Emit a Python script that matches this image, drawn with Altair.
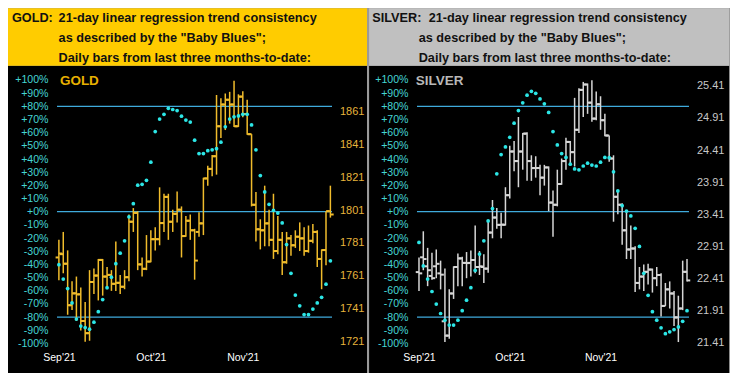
import altair as alt
import pandas as pd

FONT = "Liberation Sans"

# ---------------- data ----------------
month_labels = ["Sep'21", "Oct'21", "Nov'21"]
month_start_idx = [0, 21, 42]
pct_ticks = list(range(-100, 101, 10))
ref_levels = [80, 0, -80]
gold_price_ticks = [1721, 1741, 1761, 1781, 1801, 1821, 1841, 1861]
silver_price_ticks = [21.41, 21.91, 22.41, 22.91, 23.41, 23.91, 24.41, 24.91, 25.41]

gold_title = ["GOLD:", "21-day linear regression trend consistency",
              "as described by the \"Baby Blues\";", "Daily bars from last three months-to-date:"]
silver_title = ["SILVER:", "21-day linear regression trend consistency",
                "as described by the \"Baby Blues\";", "Daily bars from last three months-to-date:"]

gold_high = [1782.9, 1787.7, 1776.5, 1757.7, 1760.6, 1753.9, 1745.2, 1764.5, 1765.5, 1771.3,
             1771.3, 1766.4, 1764.5, 1781.9, 1761.6, 1764.5, 1798.3, 1802.2, 1800.3, 1772.2,
             1785.8, 1788.7, 1790.6, 1814.8, 1810.9, 1810.9, 1801.2, 1812.3, 1803.2, 1797.4,
             1798.3, 1789.6, 1799.7, 1820.6, 1827.9, 1834.5, 1870.9, 1868.9, 1871.8, 1872.8,
             1879.6, 1871.3, 1873.2, 1868.0, 1847.1, 1811.9, 1795.4, 1815.8, 1801.2, 1810.9,
             1797.4, 1787.7, 1787.7, 1785.8, 1788.7, 1793.5, 1790.6, 1791.6, 1792.5, 1788.7,
             1777.1, 1800.3, 1815.8]
gold_low = [1758.3, 1762.6, 1737.4, 1740.3, 1733.6, 1727.8, 1721.0, 1721.6, 1750.0, 1746.1,
            1749.0, 1752.9, 1751.9, 1751.9, 1750.0, 1752.9, 1757.7, 1787.7, 1764.5, 1760.6,
            1764.5, 1769.3, 1776.5, 1779.6, 1787.7, 1782.9, 1787.7, 1793.5, 1772.2, 1784.8,
            1782.9, 1758.7, 1784.8, 1785.8, 1815.8, 1821.6, 1822.5, 1844.8, 1849.6, 1853.5,
            1851.5, 1851.5, 1857.3, 1846.7, 1803.2, 1781.9, 1777.1, 1779.0, 1779.0, 1771.3,
            1774.2, 1761.6, 1768.4, 1773.2, 1778.0, 1776.1, 1773.2, 1775.1, 1780.9, 1766.4,
            1752.9, 1767.4, 1796.4]
gold_open = [1772.2, 1774.2, 1768.4, 1743.2, 1750.4, 1749.8, 1733.6, 1726.2, 1757.3, 1761.2,
             1770.7, 1760.6, 1761.6, 1756.2, 1756.8, 1754.4, 1760.2, 1793.9, 1799.3, 1768.0,
             1765.3, 1769.7, 1783.3, 1783.3, 1793.1, 1809.0, 1793.9, 1798.7, 1801.2, 1785.2,
             1794.5, 1788.7, 1787.7, 1792.9, 1820.2, 1826.0, 1833.7, 1851.9, 1865.1, 1868.0,
             1865.1, 1851.9, 1869.9, 1859.3, 1847.1, 1804.2, 1789.3, 1788.7, 1792.9, 1782.9,
             1776.1, 1782.9, 1769.3, 1783.8, 1779.6, 1784.8, 1783.8, 1776.1, 1782.3, 1787.7,
             1771.3, 1776.7, 1800.3]
gold_close = [1774.6, 1768.4, 1743.2, 1750.4, 1749.8, 1733.6, 1726.2, 1757.3, 1761.2, 1770.7,
              1760.6, 1761.6, 1756.2, 1756.8, 1754.4, 1760.2, 1793.9, 1799.3, 1768.0, 1765.3,
              1769.7, 1783.3, 1783.3, 1793.1, 1809.0, 1793.9, 1798.7, 1801.2, 1785.2, 1794.5,
              1788.7, 1770.3, 1792.9, 1820.2, 1826.0, 1833.7, 1851.9, 1865.1, 1868.0, 1865.1,
              1851.9, 1869.9, 1859.3, 1847.1, 1804.2, 1789.3, 1788.7, 1792.9, 1782.9, 1776.1,
              1782.9, 1769.3, 1783.8, 1779.6, 1784.8, 1783.8, 1776.1, 1782.3, 1787.7, 1771.3,
              1776.7, 1800.3, 1798.3]
gold_trend = [-40.2, -51.2, -58.4, -69.3, -81.5, -86.8, -88.0, -89.2, -83.9, -75.9,
              -66.7, -57.7, -49.7, -39.5, -31.5, -22.1, -3.9, 6.1, 20.1, 20.8,
              23.8, 37.6, 60.8, 70.3, 73.9, 78.5, 77.6, 76.8, 72.5, 69.6,
              68.1, 54.3, 44.1, 44.1, 46.3, 47.0, 47.8, 52.8, 64.5, 70.3,
              72.0, 72.7, 73.9, 73.9, 65.9, 47.0, 27.4, 15.0, 5.6, 1.0,
              -1.0, -8.5, -25.0, -46.8, -63.3, -71.5, -78.1, -78.1, -73.9, -69.3,
              -65.0, -55.0, -37.3]

silver_high = [22.738, 23.145, 22.887, 22.812, 22.862, 22.688, 22.564, 22.241, 22.599, 22.798,
               22.748, 22.822, 22.847, 23.235, 22.837, 22.788, 23.309, 23.632, 23.508, 23.433,
               23.831, 24.477, 24.551, 24.924, 24.675, 24.685, 24.328, 24.313, 24.179, 24.179,
               24.154, 23.781, 24.104, 24.278, 24.601, 24.551, 25.222, 25.371, 25.470, 25.445,
               25.495, 25.321, 25.247, 24.973, 24.636, 24.328, 23.756, 23.582, 23.458, 23.235,
               22.912, 22.589, 22.629, 22.639, 22.564, 22.589, 22.490, 22.341, 22.365, 22.216,
               22.142, 22.688, 22.713]
silver_low = [22.216, 22.539, 22.291, 22.390, 22.415, 22.241, 21.421, 21.471, 22.092, 22.291,
              22.291, 22.415, 22.440, 22.490, 22.465, 22.341, 22.499, 23.036, 23.185, 23.036,
              23.235, 23.657, 24.079, 23.831, 24.104, 23.930, 23.930, 23.980, 23.707, 23.856,
              23.458, 23.061, 23.533, 23.870, 24.104, 24.179, 24.154, 24.675, 24.924, 24.973,
              24.849, 24.874, 24.725, 24.626, 24.228, 23.294, 23.409, 22.937, 22.713, 22.713,
              22.201, 22.241, 22.216, 22.316, 22.191, 22.291, 21.819, 21.983, 21.943, 21.670,
              21.421, 21.918, 22.365]
silver_open = [22.51, 22.74, 22.60, 22.45, 22.60, 22.49, 21.744, 21.521, 22.177, 22.589,
               22.723, 22.653, 22.653, 22.698, 22.589, 22.589, 22.564, 23.125, 23.359, 23.245,
               23.245, 23.707, 24.387, 24.238, 24.387, 24.665, 24.238, 24.129, 24.129, 23.980,
               24.139, 23.592, 23.558, 23.881, 24.238, 24.536, 24.377, 24.725, 25.346, 25.430,
               25.147, 24.899, 25.122, 24.874, 24.636, 24.278, 23.682, 23.558, 23.160, 22.862,
               22.877, 22.341, 22.440, 22.514, 22.549, 22.415, 22.465, 21.983, 22.241, 22.177,
               21.804, 21.943, 22.514]
silver_close = [22.49, 22.713, 22.539, 22.415, 22.639, 22.47, 21.521, 22.177, 22.589, 22.723,
                22.653, 22.65, 22.698, 22.589, 22.60, 22.564, 23.125, 23.359, 23.245, 23.25,
                23.707, 24.387, 24.238, 24.387, 24.665, 24.238, 24.129, 24.13, 23.980, 24.139,
                23.592, 23.558, 23.881, 24.238, 24.536, 24.377, 24.725, 25.346, 25.430, 25.147,
                24.899, 25.122, 24.874, 24.636, 24.278, 23.682, 23.558, 23.160, 22.862, 22.877,
                22.341, 22.440, 22.514, 22.549, 22.415, 22.465, 21.983, 22.241, 22.177, 21.804,
                21.943, 22.514, 22.380]
silver_trend = [-23.3, -41.2, -51.2, -60.6, -70.1, -77.3, -82.4, -86.1, -86.1, -82.4,
                -75.2, -67.2, -57.7, -44.6, -32.2, -22.1, -7.0, 2.4, 28.8, 43.4,
                49.2, 56.5, 67.2, 76.8, 82.7, 88.5, 91.4, 89.9, 85.6, 81.9,
                75.4, 60.8, 50.7, 44.1, 41.2, 36.1, 32.5, 31.8, 34.7, 36.8,
                35.4, 34.7, 37.6, 41.2, 41.0, 30.3, 15.8, 4.6, 0.5, -3.2,
                -12.6, -26.4, -46.8, -63.5, -75.9, -82.4, -88.2, -92.6, -91.2, -89.5,
                -87.5, -83.2, -75.2]

# ---------------- helpers ----------------
PLOT_H = 263.4
LINE_COLOR = "#3FAADC"
DOT_COLOR = "#2CE6E6"
PCT_COLOR = "#44D4D4"

month_expr = " : ".join(
    f'datum.value == {i} ? "{m}"' for i, m in zip(month_start_idx, month_labels)
) + ' : ""'


def panel(title, name, o, h, l, c, t, cfg):
    n = len(o)
    df = pd.DataFrame({"i": list(range(n)), "open": o, "high": h, "low": l,
                       "close": c, "trend": t})
    one = pd.DataFrame({"k": [0]})
    W = cfg["w"]

    xscale = alt.Scale(domain=cfg["xdom"], nice=False, zero=False)
    xaxis = alt.Axis(values=month_start_idx, labelExpr=month_expr, ticks=False,
                     domain=False, grid=False, labelColor="#FFFFFF", labelFont=FONT,
                     labelFontSize=10.5, labelPadding=9, labelFlush=False,
                     labelOverlap=False, title=None, zindex=2)
    pct_scale = alt.Scale(domain=[-100, 100], nice=False, zero=False)
    pct_axis = alt.Axis(orient="left", values=pct_ticks,
                        labelExpr="(datum.value >= 0 ? '+' : '') + datum.value + '%'",
                        ticks=False, domain=False, grid=False, labelColor=PCT_COLOR,
                        labelFont=FONT, labelFontSize=10.6, labelPadding=9,
                        labelOverlap=False, labelBound=False, title=None, zindex=2)
    p_scale = alt.Scale(domain=cfg["pdom"], nice=False, zero=False)
    p_axis = alt.Axis(orient="right", values=cfg["pticks"], format=cfg["pfmt"],
                      ticks=False, domain=False, grid=False, labelColor=cfg["plabel"],
                      labelFont=FONT, labelFontSize=11, labelPadding=7.5,
                      labelOverlap=False, labelBound=False, title=None, zindex=2)

    body = alt.Chart(one).mark_rect(color="#000000").encode(
        x=alt.value(cfg["left"]), x2=alt.value(cfg["right"]),
        y=alt.value(-14.2), y2=alt.value(PLOT_H + 29.9))
    head = alt.Chart(one).mark_rect(color=cfg["head"]).encode(
        x=alt.value(cfg["left"]), x2=alt.value(cfg["right"]),
        y=alt.value(-71.7), y2=alt.value(-14.2))

    def htext(s, x, y):
        return alt.Chart(one).mark_text(
            align="left", baseline="middle", font=FONT, fontSize=12.7,
            fontWeight="bold", color="#111111").encode(
            x=alt.value(x), y=alt.value(y), text=alt.value(s))

    texts = [htext(title[0], cfg["tx0"], -61.6), htext(title[1], cfg["tx1"], -61.6),
             htext(title[2], cfg["tx2"], -42.0), htext(title[3], cfg["tx2"], -22.4)]
    name_txt = alt.Chart(one).mark_text(
        align="left", baseline="middle", font=FONT, fontSize=13.5, fontWeight="bold",
        color=cfg["namecol"]).encode(x=alt.value(cfg["namex"]), y=alt.value(1.5),
                                     text=alt.value(name))

    rules = alt.Chart(pd.DataFrame({"lvl": ref_levels})).mark_rule(
        color=LINE_COLOR, strokeWidth=1.2).encode(
        y=alt.Y("lvl:Q", scale=pct_scale, axis=pct_axis),
        x=alt.value(0), x2=alt.value(W))

    base = alt.Chart(df)
    bars = base.mark_rule(color=cfg["bar"], strokeWidth=1.5).encode(
        x=alt.X("i:Q", scale=xscale, axis=xaxis),
        y=alt.Y("low:Q", scale=p_scale, axis=p_axis),
        y2="high:Q")
    opens = base.transform_calculate(xo="datum.i - 0.75").mark_rule(
        color=cfg["bar"], strokeWidth=2).encode(
        x=alt.X("xo:Q", scale=xscale, axis=xaxis), x2="i:Q",
        y=alt.Y("open:Q", scale=p_scale, axis=p_axis))
    closes = base.transform_calculate(xc="datum.i + 0.75").mark_rule(
        color=cfg["bar"], strokeWidth=2).encode(
        x=alt.X("i:Q", scale=xscale, axis=xaxis), x2="xc:Q",
        y=alt.Y("close:Q", scale=p_scale, axis=p_axis))
    price_layer = alt.layer(bars, opens, closes)

    dots = base.mark_circle(color=DOT_COLOR, size=14, opacity=1).encode(
        x=alt.X("i:Q", scale=xscale, axis=xaxis),
        y=alt.Y("trend:Q", scale=pct_scale, axis=None))

    return alt.layer(body, head, *texts, name_txt, rules, price_layer, dots).resolve_scale(
        y="independent").properties(width=W, height=PLOT_H)


gold_cfg = dict(w=275, xdom=[-0.43, 62.37], left=-49, right=310, head="#FFCC00",
                tx0=-45.1, tx1=1.6, tx2=1.6, pdom=[1720, 1880], pticks=gold_price_ticks,
                pfmt="d", plabel="#E6B43C", bar="#F0BC2C", namecol="#E8B000", namex=2.9)
silver_cfg = dict(w=272, xdom=[-0.46, 62.46], left=-47.9, right=312.1, head="#C0C0C0",
                  tx0=-44.7, tx1=11.7, tx2=1.7, pdom=[21.40, 25.50], pticks=silver_price_ticks,
                  pfmt=".2f", plabel="#C8C8C8", bar="#D6D6D6", namecol="#B8B8B8", namex=-1.3)

gold = panel(gold_title, "GOLD", gold_open, gold_high, gold_low, gold_close, gold_trend, gold_cfg)
silver = panel(silver_title, "SILVER", silver_open, silver_high, silver_low, silver_close,
               silver_trend, silver_cfg)

chart = alt.hconcat(gold, silver, spacing=2).properties(
    background="#9A9A9A", padding=0).configure_view(stroke=None)

chart.save("out.html", embed_options={"renderer": "svg", "actions": False})
